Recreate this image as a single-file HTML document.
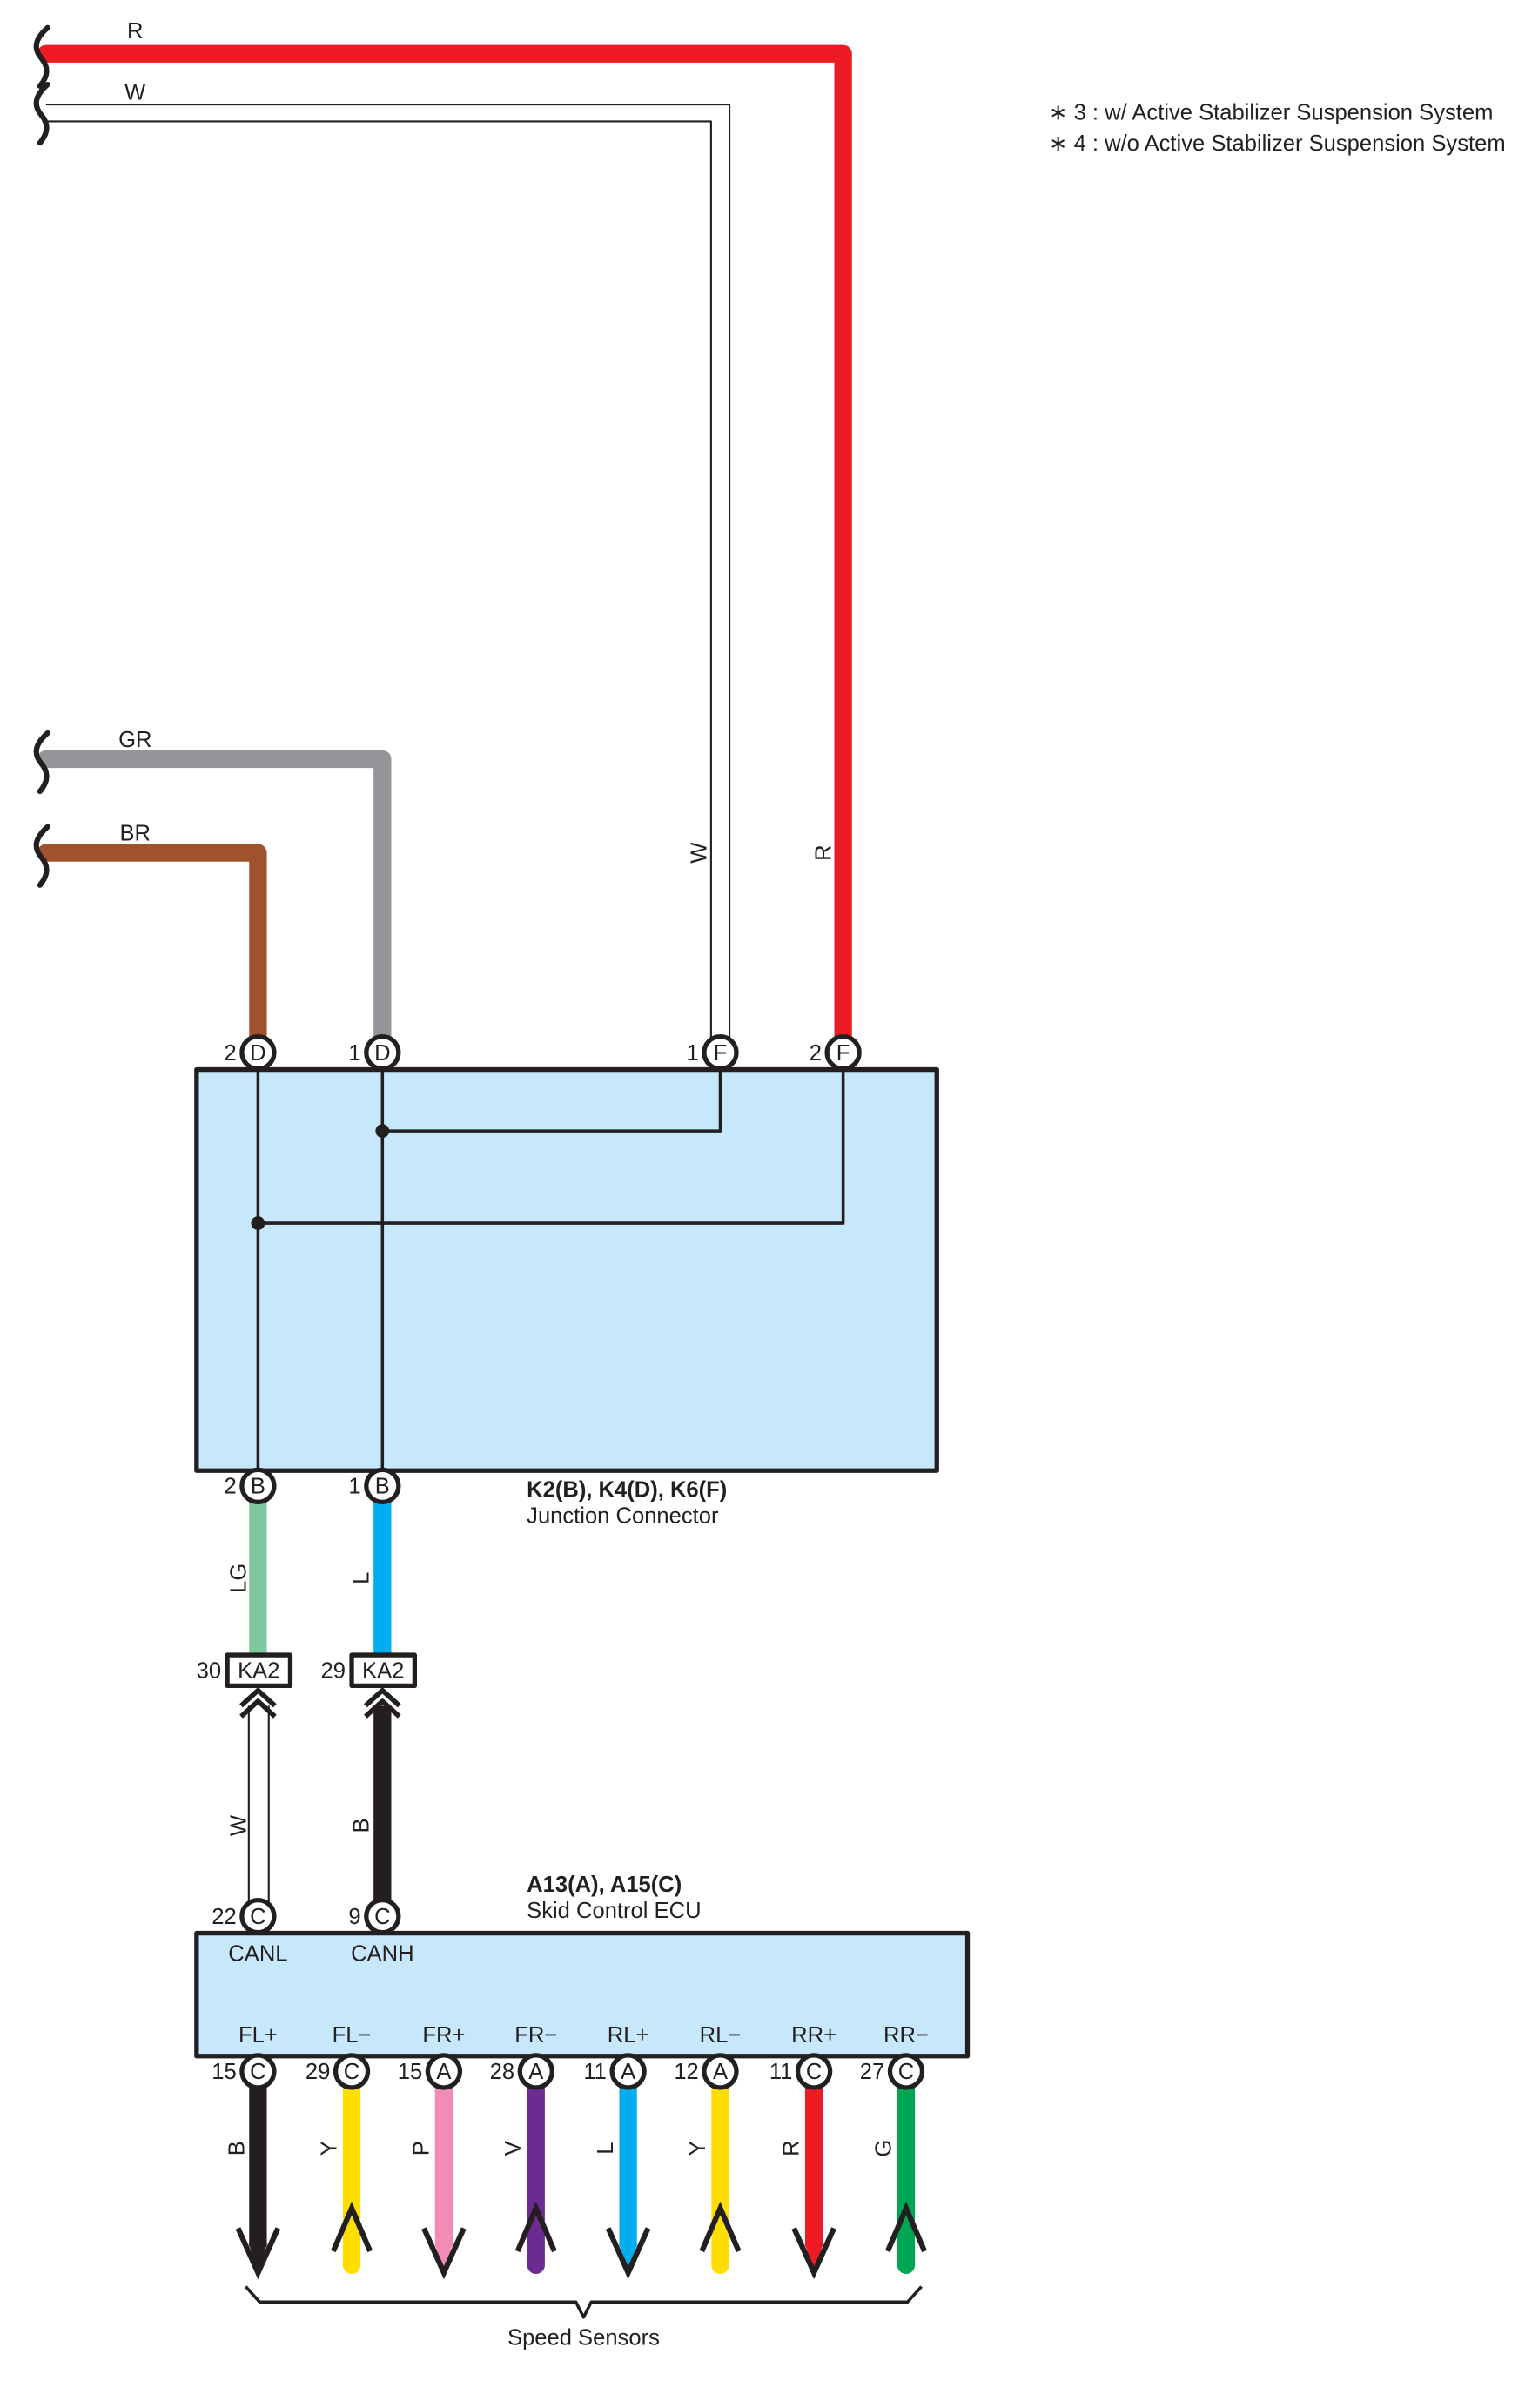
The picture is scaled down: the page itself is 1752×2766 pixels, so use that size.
<!DOCTYPE html>
<html><head><meta charset="utf-8">
<style>
html,body{margin:0;padding:0;background:#fff;}
svg{display:block;}
text{font-family:"Liberation Sans",Arial,sans-serif;fill:#231f20;}
</style></head>
<body>
<svg width="1752" height="2766" viewBox="0 0 993 1567" preserveAspectRatio="none" xmlns="http://www.w3.org/2000/svg">
<g fill="none" stroke-linejoin="round">
<path d="M30 35 H549 V680" stroke="#ed1c24" stroke-width="11.5" stroke-linecap="round"/>
<path d="M30 68 H475 V680" stroke="#231f20" stroke-width="1.2"/>
<path d="M30 79 H463 V680" stroke="#231f20" stroke-width="1.2"/>
<path d="M30 494 H249 V680" stroke="#939598" stroke-width="11.5" stroke-linecap="round"/>
<path d="M30 555 H168 V680" stroke="#a0522d" stroke-width="11.5" stroke-linecap="round"/>
<g stroke="#231f20" stroke-width="3.5" stroke-linecap="round">
<path d="M31 18 C22 26,22 32,27 38 C32 44,31 50,26 56"/>
<path d="M31 55 C22 63,22 69,27 75 C32 81,31 87,26 93"/>
<path d="M31 477 C22 485,22 491,27 497 C32 503,31 509,26 515"/>
<path d="M31 538 C22 546,22 552,27 558 C32 564,31 570,26 576"/>
</g>
<rect x="128" y="696" width="482" height="261" fill="#c7e8fa" stroke="#231f20" stroke-width="3"/>
<g stroke="#231f20" stroke-width="2">
<path d="M168 685 V967"/><path d="M249 685 V967"/>
<path d="M249 736 H469 V685"/><path d="M168 796 H549 V685"/>
</g>
<path d="M168 977 V1077" stroke="#7fc79c" stroke-width="11.5"/>
<path d="M249 977 V1077" stroke="#00aeef" stroke-width="11.5"/>
<path d="M162 1110 V1240 M175 1110 V1240" stroke="#231f20" stroke-width="1.2"/>
<path d="M249 1110 V1240" stroke="#231f20" stroke-width="11.5"/>
<g stroke="#231f20" stroke-width="3.2">
<path d="M157 1110 L168 1100 L179 1110 M157 1117 L168 1107 L179 1117"/>
<path d="M238 1110 L249 1100 L260 1110 M238 1117 L249 1107 L260 1117"/>
</g>
<rect x="148" y="1077" width="41" height="20" fill="#fff" stroke="#231f20" stroke-width="3"/>
<rect x="229" y="1077" width="41" height="20" fill="#fff" stroke="#231f20" stroke-width="3"/>
<rect x="128" y="1258" width="502" height="80" fill="#c7e8fa" stroke="#231f20" stroke-width="3"/>
<path d="M168 1358 V1462" stroke="#231f20" stroke-width="11.5"/>
<path d="M229 1358 V1474" stroke="#ffde00" stroke-width="11.5" stroke-linecap="round"/>
<path d="M289 1358 V1462" stroke="#f08cb5" stroke-width="11.5"/>
<path d="M349 1358 V1474" stroke="#6b2c91" stroke-width="11.5" stroke-linecap="round"/>
<path d="M409 1358 V1462" stroke="#00aeef" stroke-width="11.5"/>
<path d="M469 1358 V1474" stroke="#ffde00" stroke-width="11.5" stroke-linecap="round"/>
<path d="M530 1358 V1462" stroke="#ed1c24" stroke-width="11.5"/>
<path d="M590 1358 V1474" stroke="#00a651" stroke-width="11.5" stroke-linecap="round"/>
<g stroke="none">
<polygon points="162,1460 174,1460 168,1478" fill="#231f20"/>
<polygon points="283,1460 295,1460 289,1478" fill="#f08cb5"/>
<polygon points="403,1460 415,1460 409,1478" fill="#00aeef"/>
<polygon points="524,1460 536,1460 530,1478" fill="#ed1c24"/>
</g>
<g stroke="#231f20" stroke-width="3.5" stroke-linejoin="miter">
<path d="M155 1450 L168 1479 L181 1450"/>
<path d="M276 1450 L289 1479 L302 1450"/>
<path d="M396 1450 L409 1479 L422 1450"/>
<path d="M517 1450 L530 1479 L543 1450"/>
<path d="M217 1465 L229 1437 L241 1465"/>
<path d="M337 1465 L349 1437 L361 1465"/>
<path d="M457 1465 L469 1437 L481 1465"/>
<path d="M578 1465 L590 1437 L602 1465"/>
</g>
<path d="M160 1488 L169 1498 H375 L380 1508 L385 1498 H591 L600 1488" stroke="#231f20" stroke-width="2"/>
<g fill="#fff" stroke="#231f20" stroke-width="3">
<circle cx="168" cy="685" r="10.5"/><circle cx="249" cy="685" r="10.5"/>
<circle cx="469" cy="685" r="10.5"/><circle cx="549" cy="685" r="10.5"/>
<circle cx="168" cy="967" r="10.5"/><circle cx="249" cy="967" r="10.5"/>
<circle cx="168" cy="1247" r="10.5"/><circle cx="249" cy="1247" r="10.5"/>
<circle cx="168" cy="1348" r="10.5"/><circle cx="229" cy="1348" r="10.5"/>
<circle cx="289" cy="1348" r="10.5"/><circle cx="349" cy="1348" r="10.5"/>
<circle cx="409" cy="1348" r="10.5"/><circle cx="469" cy="1348" r="10.5"/>
<circle cx="530" cy="1348" r="10.5"/><circle cx="590" cy="1348" r="10.5"/>
</g>
<g fill="#231f20" stroke="none"><circle cx="249" cy="736" r="4.5"/><circle cx="168" cy="796" r="4.5"/></g>
</g>

<g font-size="14.5">
<text x="88" y="25" text-anchor="middle">R</text>
<text x="88" y="65" text-anchor="middle">W</text>
<text x="88" y="486" text-anchor="middle">GR</text>
<text x="88" y="547" text-anchor="middle">BR</text>
<text transform="translate(460 555) rotate(-90)" text-anchor="middle">W</text>
<text transform="translate(541 555) rotate(-90)" text-anchor="middle">R</text>
<text transform="translate(160 1027) rotate(-90)" text-anchor="middle">LG</text>
<text transform="translate(240 1027) rotate(-90)" text-anchor="middle">L</text>
<text transform="translate(160 1188) rotate(-90)" text-anchor="middle">W</text>
<text transform="translate(240 1188) rotate(-90)" text-anchor="middle">B</text>
<g text-anchor="middle">
<text transform="translate(159 1398) rotate(-90)">B</text>
<text transform="translate(219 1398) rotate(-90)">Y</text>
<text transform="translate(279 1398) rotate(-90)">P</text>
<text transform="translate(339 1398) rotate(-90)">V</text>
<text transform="translate(399 1398) rotate(-90)">L</text>
<text transform="translate(459 1398) rotate(-90)">Y</text>
<text transform="translate(520 1398) rotate(-90)">R</text>
<text transform="translate(580 1398) rotate(-90)">G</text>
</g>
<g text-anchor="middle" font-size="14.5">
<text x="168" y="690">D</text><text x="249" y="690">D</text>
<text x="469" y="690">F</text><text x="549" y="690">F</text>
<text x="168" y="972">B</text><text x="249" y="972">B</text>
<text x="168" y="1252">C</text><text x="249" y="1252">C</text>
<text x="168" y="1353">C</text><text x="229" y="1353">C</text>
<text x="289" y="1353">A</text><text x="349" y="1353">A</text>
<text x="409" y="1353">A</text><text x="469" y="1353">A</text>
<text x="530" y="1353">C</text><text x="590" y="1353">C</text>
</g>
<g text-anchor="end" font-size="14.5">
<text x="154" y="690">2</text><text x="235" y="690">1</text>
<text x="455" y="690">1</text><text x="535" y="690">2</text>
<text x="154" y="972">2</text><text x="235" y="972">1</text>
<text x="144" y="1092">30</text><text x="225" y="1092">29</text>
<text x="154" y="1252">22</text><text x="235" y="1252">9</text>
<text x="154" y="1353">15</text><text x="215" y="1353">29</text>
<text x="275" y="1353">15</text><text x="335" y="1353">28</text>
<text x="395" y="1353">11</text><text x="455" y="1353">12</text>
<text x="516" y="1353">11</text><text x="576" y="1353">27</text>
</g>
<g text-anchor="middle" font-size="14.5">
<text x="168.5" y="1092">KA2</text><text x="249.5" y="1092">KA2</text>
<text x="168" y="1276">CANL</text><text x="249" y="1276">CANH</text>
<text x="168" y="1329">FL+</text><text x="229" y="1329">FL−</text>
<text x="289" y="1329">FR+</text><text x="349" y="1329">FR−</text>
<text x="409" y="1329">RL+</text><text x="469" y="1329">RL−</text>
<text x="530" y="1329">RR+</text><text x="590" y="1329">RR−</text>
<text x="380" y="1526">Speed Sensors</text>
</g>
<text x="343" y="974" font-weight="bold">K2(B), K4(D), K6(F)</text>
<text x="343" y="991">Junction Connector</text>
<text x="343" y="1231" font-weight="bold">A13(A), A15(C)</text>
<text x="343" y="1248">Skid Control ECU</text>
<text x="683" y="78">∗ 3 : w/ Active Stabilizer Suspension System</text>
<text x="683" y="98">∗ 4 : w/o Active Stabilizer Suspension System</text>
</g>
</svg>
</body></html>
